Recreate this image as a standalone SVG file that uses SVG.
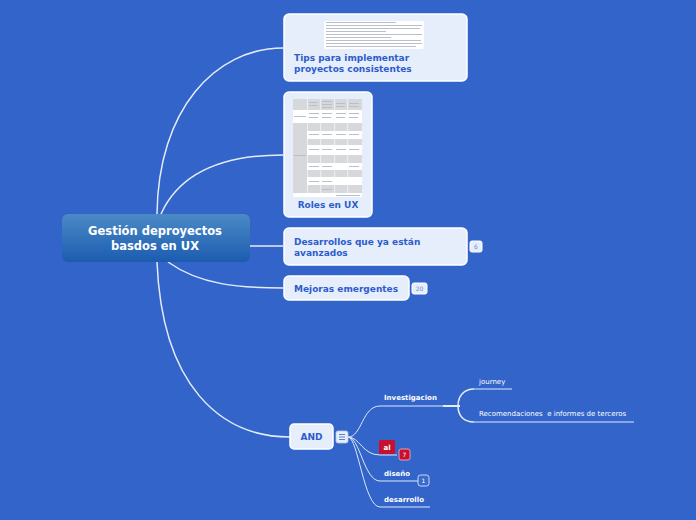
<svg xmlns="http://www.w3.org/2000/svg" width="696" height="520" viewBox="0 0 696 520">
<defs>
<linearGradient id="cg" x1="0" y1="0" x2="0" y2="1">
<stop offset="0" stop-color="#4b8ac6"/>
<stop offset="1" stop-color="#1c5cb0"/>
</linearGradient>
<style>
.bg{fill:#3264c9}
.conn{fill:none;stroke:#e4ecfa;stroke-width:1.5}
.thin{fill:none;stroke:#dfe8f8;stroke-width:1}
.node{fill:#e6eefb;stroke:#ffffff;stroke-width:1.5}
.nt{font-family:"DejaVu Sans",Verdana,sans-serif;font-weight:bold;font-size:9px;fill:#2d5ccb}
.ct{font-family:"DejaVu Sans",Verdana,sans-serif;font-weight:bold;font-size:11.5px;fill:#ffffff}
.lt{font-family:"DejaVu Sans",Verdana,sans-serif;font-weight:bold;font-size:7px;fill:#ffffff}
.rt{font-family:"DejaVu Sans",Verdana,sans-serif;font-size:7px;fill:#ffffff}
.badge{fill:#e6eefb;stroke:#ffffff;stroke-width:1}
.bt{font-family:"DejaVu Sans",Verdana,sans-serif;font-size:6px;fill:#6f8ccc}
.ln{fill:#b9c0cc}
.cell{fill:#d6d8dc}
</style>
</defs>
<rect class="bg" x="0" y="0" width="696" height="520"/>

<g id="connectors">
<path class="conn" d="M157,214 C158,110 215,48 283,48"/>
<path class="conn" d="M161,214 C180,172 225,155 283,155"/>
<path class="conn" d="M250,246 L283,246"/>
<path class="conn" d="M168,262 C200,285 240,288 283,288"/>
<path class="conn" d="M157,262 C162,385 220,437 290,437"/>
<path class="thin" d="M348,437 C362,437 362,406 380,406 L455,406"/>
<path class="thin" d="M348,437 C360,437 362,455 380,455 L397,455"/>
<path class="thin" d="M348,437 C360,437 364,481 380,481 L418,481"/>
<path class="thin" d="M348,437 C358,437 364,507 380,507 L430,507"/>
<path d="M443,406 L460,406" stroke="#e4ecfa" stroke-width="2" fill="none"/>
<path class="conn" d="M474,389 C464,389 458,396 458,406 C458,416 464,422 474,422"/>
<path class="thin" d="M474,389 L512,389"/>
<path class="thin" d="M474,422 L634,422"/>
</g>

<g id="central">
<rect x="62" y="214" width="188" height="48" rx="6" fill="url(#cg)"/>
<text class="ct" x="155" y="235" text-anchor="middle">Gestión deproyectos</text>
<text class="ct" x="155" y="250" text-anchor="middle">basdos en UX</text>
</g>

<g id="tips">
<rect class="node" x="284" y="14" width="183" height="67" rx="5"/>
<rect x="324" y="21" width="100" height="28" rx="2" fill="#ffffff"/>
<rect class="ln" x="326" y="22" width="70" height="1"/>
<rect class="ln" x="326" y="25" width="96" height="1"/>
<rect class="ln" x="326" y="28" width="94" height="1"/>
<rect class="ln" x="326" y="31" width="60" height="1"/>
<rect class="ln" x="326" y="34" width="96" height="1"/>
<rect class="ln" x="326" y="37" width="65" height="1"/>
<rect class="ln" x="326" y="40" width="95" height="1"/>
<rect class="ln" x="326" y="43" width="96" height="1"/>
<rect class="ln" x="326" y="46" width="90" height="1"/>
<text class="nt" x="294" y="61">Tips para implementar</text>
<text class="nt" x="294" y="72">proyectos consistentes</text>
</g>

<g id="roles">
<rect class="node" x="284" y="92" width="88" height="125" rx="5"/>
<rect x="293" y="99" width="69" height="98" fill="#ffffff"/>
<rect class="cell" x="293" y="99" width="69" height="11"/>
<rect class="cell" x="293" y="99" width="14" height="94"/>
<rect fill="#ffffff" x="293" y="110" width="14" height="13"/>
<rect class="cell" x="307" y="123" width="55" height="8"/>
<rect class="cell" x="307" y="139" width="55" height="6"/>
<rect class="cell" x="307" y="155" width="55" height="8"/>
<rect class="cell" x="307" y="170" width="55" height="7"/>
<rect class="cell" x="307" y="185" width="55" height="8"/>
<rect fill="#ffffff" x="307" y="99" width="0.6" height="94"/>
<rect fill="#ffffff" x="320.5" y="99" width="0.6" height="94"/>
<rect fill="#ffffff" x="334.5" y="99" width="0.6" height="94"/>
<rect fill="#ffffff" x="347.5" y="99" width="0.6" height="94"/>
<rect class="ln" x="309" y="102" width="9" height="1"/>
<rect class="ln" x="322" y="101" width="10" height="1"/>
<rect class="ln" x="336" y="103" width="9" height="1"/>
<rect class="ln" x="349" y="103" width="10" height="1"/>
<rect class="ln" x="309" y="105" width="9" height="1"/>
<rect class="ln" x="322" y="104" width="10" height="1"/>
<rect class="ln" x="322" y="107" width="10" height="1"/>
<rect class="ln" x="336" y="106" width="9" height="1"/>
<rect class="ln" x="349" y="106" width="10" height="1"/>
<rect class="ln" x="309" y="113" width="10" height="1"/>
<rect class="ln" x="322" y="113" width="10" height="1"/>
<rect class="ln" x="336" y="113" width="10" height="1"/>
<rect class="ln" x="349" y="113" width="10" height="1"/>
<rect class="ln" x="309" y="117" width="9" height="1"/>
<rect class="ln" x="322" y="117" width="9" height="1"/>
<rect class="ln" x="336" y="117" width="9" height="1"/>
<rect class="ln" x="349" y="117" width="9" height="1"/>
<rect class="ln" x="294" y="116" width="12" height="1"/>
<rect class="ln" x="294" y="155" width="12" height="1"/>
<rect class="ln" x="309" y="134" width="10" height="1"/>
<rect class="ln" x="322" y="134" width="10" height="1"/>
<rect class="ln" x="336" y="134" width="10" height="1"/>
<rect class="ln" x="349" y="134" width="10" height="1"/>
<rect class="ln" x="309" y="149" width="10" height="1"/>
<rect class="ln" x="322" y="149" width="10" height="1"/>
<rect class="ln" x="336" y="149" width="10" height="1"/>
<rect class="ln" x="349" y="149" width="10" height="1"/>
<rect class="ln" x="309" y="166" width="10" height="1"/>
<rect class="ln" x="322" y="166" width="10" height="1"/>
<rect class="ln" x="349" y="166" width="10" height="1"/>
<rect class="ln" x="309" y="181" width="10" height="1"/>
<rect class="ln" x="322" y="181" width="10" height="1"/>
<rect class="ln" x="322" y="189" width="10" height="1"/>
<rect class="ln" x="336" y="195" width="24" height="1"/>
<text class="nt" x="328" y="208" text-anchor="middle">Roles en UX</text>
</g>

<g id="desarrollos">
<rect class="node" x="284" y="228" width="183" height="37" rx="5"/>
<text class="nt" x="294" y="245">Desarrollos que ya están</text>
<text class="nt" x="294" y="256">avanzados</text>
<rect class="badge" x="470" y="241" width="12" height="11" rx="2"/>
<text class="bt" x="476" y="249" text-anchor="middle">6</text>
</g>

<g id="mejoras">
<rect class="node" x="284" y="276" width="125" height="24" rx="5"/>
<text class="nt" x="294" y="292">Mejoras emergentes</text>
<rect class="badge" x="412" y="283" width="15" height="11" rx="2"/>
<text class="bt" x="419.5" y="291" text-anchor="middle">20</text>
</g>

<g id="and">
<rect class="node" x="290" y="424" width="43" height="25" rx="4"/>
<text class="nt" x="311.5" y="440" text-anchor="middle">AND</text>
<rect x="336" y="431" width="12" height="12" rx="2" fill="#e6eefb" stroke="#b8c8ea" stroke-width="0.8"/>
<rect x="339" y="434" width="6" height="1" fill="#5a7fcf"/>
<rect x="339" y="436.5" width="6" height="1" fill="#5a7fcf"/>
<rect x="339" y="439" width="6" height="1" fill="#5a7fcf"/>
</g>

<g id="investigacion">
<text class="lt" x="384" y="400">Investigacion</text>
</g>

<g id="journey">
<text class="rt" x="479" y="384">journey</text>
</g>

<g id="recomendaciones">
<text class="rt" x="479" y="416" xml:space="preserve">Recomendaciones  e informes de terceros</text>
</g>

<g id="al">
<rect x="379" y="440" width="16" height="14" rx="1.5" fill="#c8102e"/>
<text class="lt" x="387" y="450" text-anchor="middle">al</text>
<rect x="399" y="449" width="11" height="11" rx="2" fill="#c8102e" stroke="#e6a0aa" stroke-width="1"/>
<text class="bt" x="404.5" y="457" text-anchor="middle" style="fill:#ffffff">7</text>
</g>

<g id="diseno">
<text class="lt" x="384" y="476">diseño</text>
<rect x="418" y="475" width="11" height="11" rx="2.5" fill="#3a6bcc" stroke="#cdd9f2" stroke-width="1"/>
<text class="bt" x="423.5" y="483" text-anchor="middle" style="fill:#ffffff">1</text>
</g>

<g id="desarrollo">
<text class="lt" x="384" y="502">desarrollo</text>
</g>
</svg>
